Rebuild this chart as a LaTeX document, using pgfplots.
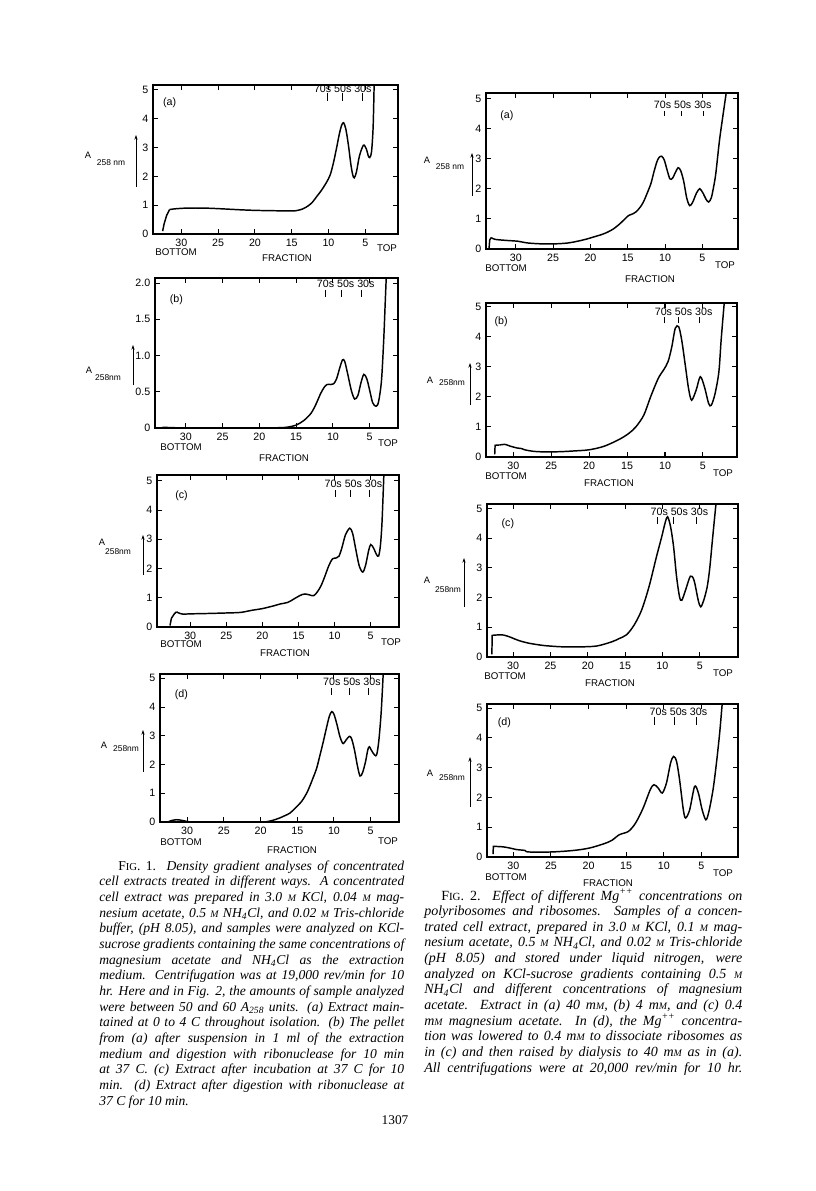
\documentclass[border=0pt]{standalone}
\usepackage{fontspec}
\setmainfont{Liberation Serif}
\newfontfamily\sans{Liberation Sans}
\usepackage{pgfplots}
\pgfplotsset{compat=1.18}
\usetikzlibrary{arrows.meta}
\newcommand\tf{\sans\fontsize{8}{9}\selectfont}
\newcommand\lf{\sans\fontsize{7.3}{8}\selectfont}
\newcommand\mf{\sans\fontsize{8}{9}\selectfont}
\newcommand\pf{\sans\fontsize{8}{9}\selectfont}
\newcommand\sM{{\fontsize{7.4}{8}\selectfont M}}
\newcommand\capfont{\itshape\fontsize{10.2}{12}\selectfont}
\newcommand\cl[4]{\node[anchor=base west,inner sep=0pt] at (#1,#2) {\capfont\makebox[#3][s]{#4}};}
\newcommand\mk[7]{%
 \node[font=\mf,inner sep=0pt] at (axis cs:#7,#4){70s 50s 30s};
 \draw[line width=0.6pt] (axis cs:#1,#5)--(axis cs:#1,#6);
 \draw[line width=0.6pt] (axis cs:#2,#5)--(axis cs:#2,#6);
 \draw[line width=0.6pt] (axis cs:#3,#5)--(axis cs:#3,#6);}
\pgfplotsset{
  panel/.style={
    scale only axis, anchor=south west, x dir=reverse,
    ymin=0, xtick={5,10,15,20,25,30}, ytick={0,1,2,3,4,5},
    tick align=inside, major tick length=3.5pt,
    axis line style={line width=0.9pt},
    every tick/.append style={line width=0.8pt, black},
    ticklabel style={font=\tf},
    /pgf/number format/assume math mode=true,
    every axis plot/.append style={line width=1.1pt, black, mark=none},
  }
}
\begin{document}
\begin{tikzpicture}
\begin{scope}[x=0.75pt,y=-0.75pt]
\path[use as bounding box, fill=white] (0,0) rectangle (816,1191);
\end{scope}

% ---------- Fig 1 (a)
\begin{axis}[panel, at={(114.75pt,-175.5pt)}, width=183.75pt, height=111.75pt, xmin=0.55, xmax=33.86, ymax=5.17]
\addplot[sharp plot] coordinates {(32.55,0.1)(32.35,0.35)(32.0,0.65)(31.6,0.85)};
\addplot[smooth] coordinates {(31.6,0.85)(31.0,0.87)(30.0,0.89)(29.0,0.9)(27.0,0.9)(25.0,0.88)(22.0,0.84)(20.0,0.82)(18.0,0.81)(15.0,0.8)(14.2,0.82)(13.5,0.87)(12.8,0.97)(12.2,1.1)(11.6,1.3)(11.0,1.5)(10.3,1.78)(9.77,2.05)(9.3,2.5)(8.86,3.04)(8.5,3.5)(8.2,3.78)(7.95,3.86)(7.65,3.65)(7.3,3.1)(6.95,2.4)(6.7,2.05)(6.5,1.95)(6.2,2.15)(5.8,2.7)(5.25,3.08)(4.85,2.95)(4.6,2.72)(4.4,2.65)(4.15,2.85)(3.95,3.6)(3.85,4.5)(3.78,5.4)};
\mk{10.2}{8.05}{5.45}{5.03}{4.63}{4.88}{8.06}
\node[font=\pf] at (axis cs:31.6,4.55) {(a)};
\end{axis}

% ---------- Fig 1 (b)
\begin{axis}[panel, at={(116.25pt,-321pt)}, width=182.25pt, height=112.5pt, xmin=1.15, xmax=34.2, ymax=2.07, ytick={0,0.5,1,1.5,2}, yticklabels={0,0.5,1.0,1.5,2.0}]
\addplot[smooth] coordinates {(33.2,0.01)(30,0.0)(25,0.0)(20,0.0)(17,0.005)(16,0.015)(15,0.04)(14,0.1)(13,0.2)(12.3,0.33)(11.7,0.47)(11.2,0.56)(10.8,0.6)(10.3,0.6)(9.9,0.61)(9.5,0.68)(9.1,0.82)(8.7,0.94)(8.4,0.92)(8.0,0.75)(7.5,0.52)(7.05,0.4)(6.6,0.45)(6.2,0.62)(5.8,0.74)(5.4,0.68)(5.0,0.52)(4.6,0.35)(4.15,0.3)(3.8,0.36)(3.4,0.65)(3.1,1.2)(2.9,1.7)(2.7,2.2)};
\mk{11.0}{8.85}{6.1}{1.99}{1.81}{1.91}{8.26}
\node[font=\pf] at (axis cs:31.3,1.77) {(b)};
\end{axis}

% ---------- Fig 1 (c)
\begin{axis}[panel, at={(117.75pt,-470.25pt)}, width=181.5pt, height=114pt, xmin=1.08, xmax=34.6, ymax=5.2]
\addplot[sharp plot] coordinates {(32.8,0.05)(32.6,0.3)(32.2,0.45)(31.9,0.52)};
\addplot[smooth] coordinates {(31.9,0.52)(31.4,0.46)(31.0,0.44)(30,0.45)(28,0.46)(25,0.48)(23,0.5)(21.5,0.57)(20,0.63)(18.5,0.72)(17.5,0.79)(16.5,0.84)(15.7,0.95)(15.0,1.05)(14.5,1.11)(14.1,1.13)(13.5,1.1)(12.9,1.07)(12.4,1.2)(11.9,1.4)(11.4,1.7)(10.8,2.1)(10.3,2.33)(9.8,2.36)(9.4,2.42)(9.0,2.7)(8.5,3.15)(7.9,3.38)(7.5,3.2)(7.1,2.7)(6.6,2.1)(6.1,1.88)(5.7,2.12)(5.3,2.6)(5.0,2.82)(4.6,2.7)(4.2,2.48)(3.9,2.43)(3.65,2.8)(3.45,3.5)(3.3,4.4)(3.15,5.4)};
\mk{9.94}{7.77}{5.18}{4.9}{4.45}{4.7}{7.4}
\node[font=\pf] at (axis cs:31.2,4.5) {(c)};
\end{axis}

% ---------- Fig 1 (d)
\begin{axis}[panel, at={(120pt,-616.5pt)}, width=179.25pt, height=111pt, xmin=1.14, xmax=33.7, ymax=5.15]
\addplot[smooth] coordinates {(32.5,0.02)(32.0,0.06)(31.5,0.08)(31.0,0.07)(30.4,0.04)(29.8,0.01)(29,0.0)(25,0)(20,0)(19.2,0.01)(18.3,0.06)(17.4,0.14)(16.7,0.22)(16.0,0.31)(15.2,0.5)(14.4,0.72)(13.9,0.92)(13.5,1.12)(12.9,1.5)(12.36,1.87)(11.9,2.33)(11.45,2.8)(11.0,3.3)(10.64,3.67)(10.32,3.84)(10.0,3.75)(9.6,3.4)(9.2,2.98)(8.9,2.78)(8.7,2.73)(8.3,2.87)(7.9,2.98)(7.6,2.9)(7.2,2.5)(6.8,1.95)(6.45,1.6)(6.1,1.72)(5.7,2.1)(5.4,2.5)(5.18,2.62)(4.8,2.45)(4.45,2.33)(4.18,2.34)(3.9,2.8)(3.6,3.7)(3.4,4.6)(3.25,5.4)};
\mk{10.3}{7.9}{5.3}{4.88}{4.42}{4.65}{7.55}
\node[font=\pf] at (axis cs:30.8,4.42) {(d)};
\end{axis}

% ---------- Fig 2 (a)
\begin{axis}[panel, at={(364.5pt,-186.75pt)}, width=189pt, height=117pt, xmin=0.22, xmax=34.0, ymax=5.18]
\addplot[sharp plot] coordinates {(33.6,0.0)(33.5,0.3)(33.3,0.38)};
\addplot[smooth] coordinates {(33.3,0.38)(32.8,0.32)(31,0.28)(29.8,0.26)(28.4,0.2)(26.5,0.17)(24.8,0.17)(23,0.2)(21.7,0.26)(20.5,0.33)(19.7,0.39)(18.5,0.48)(17.7,0.56)(16.9,0.67)(16,0.85)(15.3,1.02)(14.9,1.11)(14.3,1.17)(13.85,1.24)(13.3,1.4)(12.9,1.56)(12.4,1.85)(11.9,2.17)(11.5,2.55)(11.1,2.89)(10.8,3.04)(10.45,3.08)(10.1,2.95)(9.7,2.6)(9.35,2.33)(9.0,2.35)(8.6,2.55)(8.25,2.7)(7.9,2.6)(7.5,2.25)(7.1,1.7)(6.7,1.44)(6.3,1.55)(5.8,1.85)(5.35,2.0)(4.9,1.85)(4.5,1.65)(4.15,1.56)(3.8,1.7)(3.5,2.05)(3.2,2.5)(2.7,3.61)(2.2,4.5)(1.85,5.1)(1.75,5.3)};
\mk{10.13}{7.8}{4.9}{4.78}{4.41}{4.59}{7.63}
\node[font=\pf] at (axis cs:31.2,4.44) {(a)};
\end{axis}

% ---------- Fig 2 (b)
\begin{axis}[panel, at={(364.5pt,-342.75pt)}, width=188.25pt, height=115.5pt, xmin=0.51, xmax=33.6, ymax=5.12]
\addplot[sharp plot] coordinates {(32.45,0.09)(32.4,0.39)(31.8,0.4)};
\addplot[smooth] coordinates {(31.8,0.4)(31.1,0.42)(30.4,0.36)(29.5,0.3)(28.9,0.28)(28.5,0.24)(27.4,0.19)(26,0.17)(24.9,0.17)(23.5,0.18)(22.1,0.2)(20.0,0.24)(18.0,0.36)(16.0,0.59)(14.8,0.78)(13.85,1.0)(12.8,1.39)(11.9,2.0)(10.9,2.61)(10.2,2.89)(9.6,3.17)(9.1,3.67)(8.65,4.28)(8.2,4.33)(7.8,3.89)(7.3,3.0)(6.9,2.28)(6.5,1.89)(5.9,2.22)(5.35,2.67)(4.8,2.33)(4.25,1.78)(3.9,1.72)(3.4,2.11)(2.9,2.83)(2.6,3.89)(2.2,5.1)(2.1,5.3)};
\mk{10.1}{8.3}{5.5}{4.83}{4.44}{4.67}{7.55}
\node[font=\pf] at (axis cs:31.6,4.5) {(b)};
\end{axis}

% ---------- Fig 2 (c)
\begin{axis}[panel, at={(365.25pt,-492.75pt)}, width=188.25pt, height=114.75pt, xmin=-0.13, xmax=33.5, ymax=5.15]
\addplot[sharp plot] coordinates {(32.85,0.09)(32.8,0.73)(32.3,0.74)};
\addplot[smooth] coordinates {(32.3,0.74)(31.3,0.74)(30.4,0.67)(29.3,0.56)(28.0,0.47)(26.0,0.39)(24,0.35)(22.9,0.34)(21.1,0.34)(18.8,0.37)(16.8,0.51)(15.8,0.62)(14.8,0.75)(13.8,1.07)(12.8,1.57)(11.8,2.36)(10.8,3.37)(10.1,4.04)(9.6,4.55)(9.3,4.72)(8.9,4.38)(8.5,3.71)(8.1,2.7)(7.7,2.02)(7.4,1.91)(6.9,2.25)(6.25,2.72)(5.76,2.58)(5.2,1.91)(4.87,1.69)(4.46,1.91)(4.0,2.36)(3.66,2.98)(3.3,3.93)(2.86,5.06)(2.75,5.3)};
\mk{10.7}{8.57}{5.45}{4.89}{4.49}{4.72}{7.72}
\node[font=\pf] at (axis cs:30.7,4.49) {(c)};
\end{axis}

% ---------- Fig 2 (d)
\begin{axis}[panel, at={(365.25pt,-642.75pt)}, width=188.25pt, height=114.75pt, xmin=0.13, xmax=33.5, ymax=5.14]
\addplot[sharp plot] coordinates {(32.7,0.1)(32.65,0.36)(31.9,0.35)};
\addplot[smooth] coordinates {(31.9,0.35)(31.3,0.34)(30.45,0.3)(29.55,0.25)(28.45,0.22)(28.0,0.17)(24.9,0.17)(22.0,0.22)(19.9,0.3)(17.9,0.45)(16.9,0.56)(15.9,0.75)(14.7,0.86)(13.75,1.14)(12.75,1.64)(11.8,2.26)(11.3,2.43)(10.75,2.32)(10.2,2.15)(9.65,2.48)(9.1,3.15)(8.7,3.38)(8.3,3.21)(7.9,2.6)(7.4,1.59)(7.1,1.31)(6.55,1.59)(5.9,2.37)(5.4,2.15)(4.9,1.59)(4.4,1.25)(4.0,1.53)(3.45,2.26)(3.0,3.15)(2.57,4.16)(2.26,5.06)(2.15,5.3)};
\mk{11.2}{8.55}{5.65}{4.89}{4.44}{4.72}{8.05}
\node[font=\pf] at (axis cs:31.2,4.5) {(d)};
\end{axis}

\begin{scope}[x=0.75pt,y=-0.75pt]
% y labels
\def\YL#1#2#3#4#5#6#7#8{%
 \node[font=\sans\fontsize{7}{8}\selectfont,inner sep=0pt] at (#1,#2) {A};
 \node[font=\sans\fontsize{6.3}{7}\selectfont,inner sep=0pt] at (#3,#4) {#8};
 \draw[-{Stealth[length=3.5pt,width=2.4pt]},line width=0.6pt] (#5,#6) -- (#5,#7);}
\YL{88}{155}{111}{163}{136}{187}{135}{258 nm}
\YL{89}{370}{108}{378}{133}{385}{345}{258nm}
\YL{102}{542}{118}{552}{143}{575}{535}{258nm}
\YL{104}{745}{126}{749}{143}{772}{730}{258nm}
\YL{427}{160}{450}{167}{472}{196}{153}{258 nm}
\YL{430}{380}{452}{383}{470}{405}{363}{258nm}
\YL{427}{580}{448}{590}{464}{607}{558}{258nm}
\YL{430}{773}{452}{778}{470}{807}{757}{258nm}
% bottom labels
\def\BL#1#2#3#4#5#6{%
 \node[font=\lf,inner sep=0pt] at (#1,#2) {BOTTOM};
 \node[font=\lf,inner sep=0pt] at (#3,#4) {TOP};
 \node[font=\lf,inner sep=0pt] at (#5,#6) {FRACTION};}
\BL{176}{252}{387}{248}{287}{258}
\BL{181}{447}{388}{443}{284}{458}
\BL{181}{644}{391}{642}{285}{653}
\BL{181}{842}{388}{841}{292}{850}
\BL{506}{268.5}{725}{265}{650}{279}
\BL{506}{476}{723}{473}{609}{483}
\BL{505}{676}{723}{673}{610}{683}
\BL{506}{877}{723}{873}{608}{883}
% Fig 1 caption
\cl{118}{870}{214.5pt}{{\upshape F{\fontsize{8}{9}\selectfont IG}. 1.} Density gradient analyses of concentrated}
\cl{99}{885.67}{228.75pt}{cell extracts treated in different ways. A concentrated}
\cl{99}{901.33}{228.75pt}{cell extract was prepared in 3.0 \sM{} KCl, 0.04 \sM{} mag-}
\cl{99}{917}{228.75pt}{nesium acetate, 0.5 \sM{} NH\textsubscript{4}Cl, and 0.02 \sM{} Tris-chloride}
\cl{99}{932.67}{228.75pt}{buffer, (pH 8.05), and samples were analyzed on KCl-}
\cl{99}{948.33}{228.75pt}{sucrose gradients containing the same concentrations of}
\cl{99}{964}{228.75pt}{magnesium acetate and NH\textsubscript{4}Cl as the extraction}
\cl{99}{979.67}{228.75pt}{medium. Centrifugation was at 19,000 rev/min for 10}
\cl{99}{995.33}{228.75pt}{hr. Here and in Fig. 2, the amounts of sample analyzed}
\cl{99}{1011}{228.75pt}{were between 50 and 60 A\textsubscript{258} units. (a) Extract main-}
\cl{99}{1026.67}{228.75pt}{tained at 0 to 4 C throughout isolation. (b) The pellet}
\cl{99}{1042.33}{228.75pt}{from (a) after suspension in 1 ml of the extraction}
\cl{99}{1058}{228.75pt}{medium and digestion with ribonuclease for 10 min}
\cl{99}{1073.67}{228.75pt}{at 37 C. (c) Extract after incubation at 37 C for 10}
\cl{99}{1089.33}{228.75pt}{min. (d) Extract after digestion with ribonuclease at}
\node[anchor=base west,inner sep=0pt] at (99,1105) {\capfont 37 C for 10 min.};
% Fig 2 caption
\renewcommand\capfont{\itshape\fontsize{10.5}{12}\selectfont}
\cl{441}{900}{225.75pt}{{\upshape F{\fontsize{8.2}{9}\selectfont IG}. 2.} Effect of different Mg\textsuperscript{++} concentrations on}
\cl{424}{915.64}{238.5pt}{polyribosomes and ribosomes. Samples of a concen-}
\cl{424}{931.28}{238.5pt}{trated cell extract, prepared in 3.0 \sM{} KCl, 0.1 \sM{} mag-}
\cl{424}{946.92}{238.5pt}{nesium acetate, 0.5 \sM{} NH\textsubscript{4}Cl, and 0.02 \sM{} Tris-chloride}
\cl{424}{962.56}{238.5pt}{(pH 8.05) and stored under liquid nitrogen, were}
\cl{424}{978.2}{238.5pt}{analyzed on KCl-sucrose gradients containing 0.5 \sM}
\cl{424}{993.84}{238.5pt}{NH\textsubscript{4}Cl and different concentrations of magnesium}
\cl{424}{1009.48}{238.5pt}{acetate. Extract in (a) 40 m\sM, (b) 4 m\sM, and (c) 0.4}
\cl{424}{1025.12}{238.5pt}{m\sM{} magnesium acetate. In (d), the Mg\textsuperscript{++} concentra-}
\cl{424}{1040.76}{238.5pt}{tion was lowered to 0.4 m\sM{} to dissociate ribosomes as}
\cl{424}{1056.4}{238.5pt}{in (c) and then raised by dialysis to 40 m\sM{} as in (a).}
\cl{424}{1072.04}{238.5pt}{All centrifugations were at 20,000 rev/min for 10 hr.}
\node[font=\fontsize{10}{12}\selectfont,inner sep=0pt] at (395,1120) {1307};
\end{scope}
\end{tikzpicture}
\end{document}
